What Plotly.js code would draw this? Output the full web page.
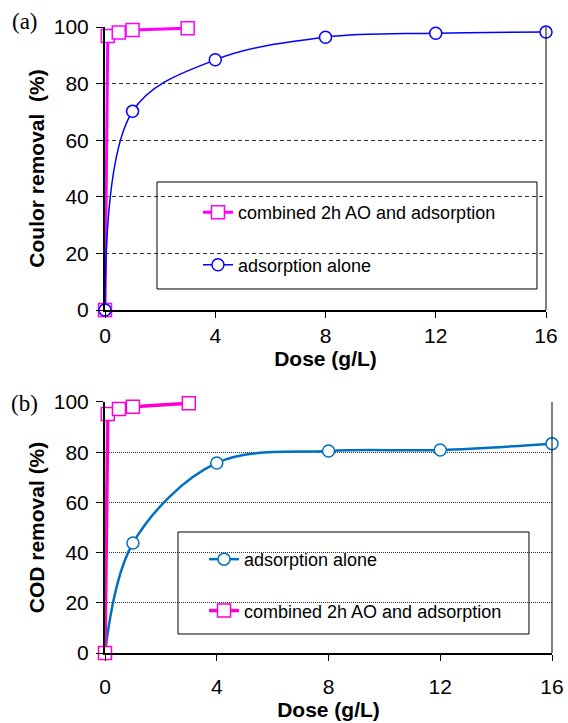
<!DOCTYPE html>
<html>
<head>
<meta charset="utf-8">
<script src="https://cdn.plot.ly/plotly-3.0.1.min.js"></script>
<style>html,body{margin:0;padding:0;background:#fff;}#chart{width:568px;height:723px;}</style>
</head>
<body>
<div id="chart"></div>
<script>
// ---- data (a) colour removal ----
const doseCombinedA = [0, 0.1, 0.5, 1, 3];
const colourCombined = [0, 96.8, 98.1, 98.9, 99.6];
const doseAdsA = [0, 1, 4, 8, 12, 16];
const colourAds = [0, 70.2, 88.4, 96.4, 97.8, 98.2];
// ---- data (b) COD removal ----
const doseAdsB = [0, 1, 4, 8, 12, 16];
const codAds = [0, 43.8, 75.7, 80.5, 80.9, 83.4];
const doseCombinedB = [0, 0.1, 0.5, 1, 3];
const codCombined = [0, 95.2, 97.2, 98.1, 99.5];
const xTicks = [0, 4, 8, 12, 16];
const yTicks = [0, 20, 40, 60, 80, 100];
const nameCombined = 'combined 2h AO and adsorption';
const nameAds = 'adsorption alone';

const FONT = 'Arial, "Liberation Sans", sans-serif';

const traces = [
  {x: doseCombinedA, y: colourCombined, name: nameCombined, xaxis: 'x', yaxis: 'y',
   mode: 'lines+markers', line: {color: '#FF00FF', width: 3},
   marker: {symbol: 'square', size: 13, color: '#FFFFFF', line: {color: '#FF00FF', width: 1.5}},
   cliponaxis: false, legend: 'legend', legendgroup: 'a1'},
  {x: doseAdsA, y: colourAds, name: nameAds, xaxis: 'x', yaxis: 'y',
   mode: 'lines+markers', line: {color: '#0000FF', width: 1.5, shape: 'spline', smoothing: 1},
   marker: {symbol: 'circle', size: 12, color: '#FFFFFF', line: {color: '#0000FF', width: 1.5}},
   cliponaxis: false, legend: 'legend', legendgroup: 'a2'},
  {x: doseAdsB, y: codAds, name: nameAds, xaxis: 'x2', yaxis: 'y2',
   mode: 'lines+markers', line: {color: '#0070C0', width: 2.5, shape: 'spline', smoothing: 1},
   marker: {symbol: 'circle', size: 12, color: '#FFFFFF', line: {color: '#0070C0', width: 1.5}},
   cliponaxis: false, legend: 'legend2', legendgroup: 'b1'},
  {x: doseCombinedB, y: codCombined, name: nameCombined, xaxis: 'x2', yaxis: 'y2',
   mode: 'lines+markers', line: {color: '#FF00CC', width: 3.5},
   marker: {symbol: 'square', size: 13, color: '#FFFFFF', line: {color: '#FF00CC', width: 1.5}},
   cliponaxis: false, legend: 'legend2', legendgroup: 'b2'}
];

function xAxis(domain, anchor, labelGap, titleGap) {
  return {domain: domain, anchor: anchor, range: [0, 16], tickvals: xTicks, ticktext: xTicks.map(String),
    showgrid: false, zeroline: false, showline: true, linecolor: '#000', linewidth: 2,
    ticks: 'outside', ticklen: 6, tickcolor: '#000', tickwidth: 1, ticklabelstandoff: labelGap,
    tickfont: {family: FONT, size: 21, color: '#000'},
    title: {text: '<b>Dose (g/L)</b>', font: {family: FONT, size: 21, color: '#000'}, standoff: titleGap}};
}
function yAxis(domain, anchor, title, dash) {
  return {domain: domain, anchor: anchor, range: [0, 100], tickvals: yTicks, ticktext: yTicks.map(String),
    showgrid: true, gridcolor: '#333', gridwidth: 1, griddash: dash, zeroline: false,
    showline: true, linecolor: '#000', linewidth: 2,
    ticks: 'outside', ticklen: 7, tickcolor: '#000', tickwidth: 1, ticklabelstandoff: 3,
    tickfont: {family: FONT, size: 21, color: '#000'},
    title: {text: title, font: {family: FONT, size: 21, color: '#000'}, standoff: 3}};
}

const layout = {
  width: 568, height: 723,
  margin: {l: 105, r: 16, t: 27, b: 70},
  paper_bgcolor: '#fff', plot_bgcolor: '#fff',
  showlegend: true,
  xaxis: xAxis([0, 0.9866], 'y', 0, 1),
  yaxis: yAxis([0.5479, 1], 'x', '<b>Coulor removal&nbsp; (%)</b>', '4px,3px'),
  xaxis2: xAxis([0, 1], 'y2', 8, 5),
  yaxis2: yAxis([0, 0.401], 'x2', '<b>COD removal (%)</b>', '1px,1px'),
  legend: {x: 0.208, y: 0.733, xanchor: 'left', yanchor: 'top', bgcolor: 'rgba(0,0,0,0)',
    borderwidth: 0, tracegroupgap: 26, font: {family: FONT, size: 18, color: '#000'}},
  legend2: {x: 0.2215, y: 0.179, xanchor: 'left', yanchor: 'top', bgcolor: 'rgba(0,0,0,0)',
    borderwidth: 0, tracegroupgap: 25, font: {family: FONT, size: 18, color: '#000'}},
  shapes: [
    {type: 'line', xref: 'x domain', yref: 'y domain', x0: 1, x1: 1, y0: 0, y1: 1, line: {color: '#000', width: 1}},
    {type: 'line', xref: 'x2 domain', yref: 'y2 domain', x0: 1, x1: 1, y0: 0, y1: 1, line: {color: '#000', width: 1}},
    {type: 'rect', xref: 'paper', yref: 'paper', x0: 0.1163, x1: 0.9664, y0: 0.5815, y1: 0.7524, line: {color: '#000', width: 1}, fillcolor: 'rgba(255,255,255,0)'},
    {type: 'rect', xref: 'paper', yref: 'paper', x0: 0.1633, x1: 0.9485, y0: 0.0304, y1: 0.1933, line: {color: '#000', width: 1}, fillcolor: 'rgba(255,255,255,0)'}
  ],
  annotations: [
    {text: '(a)', xref: 'paper', yref: 'paper', x: -0.179, y: 1.008, showarrow: false, xanchor: 'center', yanchor: 'middle',
     font: {family: '"Liberation Serif", "Times New Roman", serif', size: 23, color: '#000'}},
    {text: '(b)', xref: 'paper', yref: 'paper', x: -0.179, y: 0.398, showarrow: false, xanchor: 'center', yanchor: 'middle',
     font: {family: '"Liberation Serif", "Times New Roman", serif', size: 23, color: '#000'}}
  ]
};

Plotly.newPlot('chart', traces, layout, {displayModeBar: false, staticPlot: true});
</script>
</body>
</html>
